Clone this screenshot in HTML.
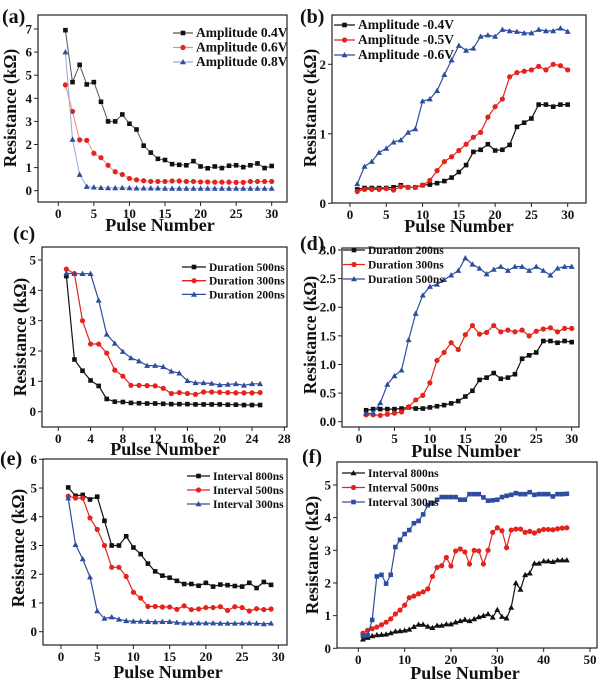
<!DOCTYPE html>
<html><head><meta charset="utf-8">
<style>
html,body{margin:0;padding:0;background:#fff;}
svg{display:block;}
svg text{font-family:"Liberation Serif",serif;font-weight:bold;}
</style></head>
<body>
<svg id="fig" width="600" height="681" viewBox="0 0 600 681" xmlns="http://www.w3.org/2000/svg"></svg>
<script>
// ---- Data arrays ----
const aX = [1,2,3,4,5,6,7,8,9,10,11,12,13,14,15,16,17,18,19,20,21,22,23,24,25,26,27,28,29,30];
const aBlack = [6.95,4.7,5.45,4.6,4.7,3.85,3.0,3.0,3.3,2.9,2.65,1.95,1.65,1.38,1.33,1.15,1.12,1.1,1.28,1.05,0.97,1.05,0.98,1.08,1.1,1.02,1.1,1.18,0.98,1.07];
const aRed = [4.58,3.43,2.2,2.18,1.62,1.43,1.1,0.82,0.7,0.53,0.47,0.43,0.4,0.4,0.4,0.42,0.42,0.4,0.4,0.38,0.38,0.37,0.37,0.37,0.36,0.36,0.4,0.4,0.4,0.4];
const aBlue = [6.0,2.22,0.7,0.18,0.15,0.13,0.12,0.12,0.13,0.12,0.11,0.11,0.11,0.11,0.1,0.1,0.1,0.1,0.1,0.1,0.1,0.1,0.1,0.1,0.1,0.1,0.1,0.1,0.1,0.1];
const aXTicks = [0,5,10,15,20,25,30];
const aYTicks = [0,1,2,3,4,5,6,7];
const aLegend = ["Amplitude 0.4V","Amplitude 0.6V","Amplitude 0.8V"];

const bX = aX;
const bBlack = [0.2,0.22,0.22,0.22,0.22,0.23,0.26,0.23,0.23,0.26,0.27,0.29,0.32,0.37,0.45,0.55,0.74,0.77,0.85,0.76,0.77,0.84,1.1,1.16,1.22,1.42,1.42,1.39,1.42,1.42];
const bRed = [0.17,0.2,0.2,0.2,0.21,0.19,0.24,0.23,0.23,0.26,0.33,0.47,0.6,0.67,0.76,0.85,0.95,1.02,1.24,1.39,1.5,1.82,1.88,1.9,1.92,1.97,1.92,2.0,1.98,1.92];
const bBlue = [0.28,0.53,0.6,0.73,0.79,0.88,0.91,1.02,1.07,1.47,1.5,1.62,1.85,2.06,2.27,2.2,2.23,2.4,2.42,2.4,2.5,2.48,2.47,2.45,2.45,2.5,2.48,2.48,2.52,2.47];
const bXTicks = [0,5,10,15,20,25,30];
const bYTicks = [0,1,2];
const bLegend = ["Amplitude -0.4V","Amplitude -0.5V","Amplitude -0.6V"];

const cX = [1,2,3,4,5,6,7,8,9,10,11,12,13,14,15,16,17,18,19,20,21,22,23,24,25];
const cBlack = [4.47,1.72,1.35,1.03,0.85,0.42,0.33,0.32,0.29,0.28,0.27,0.27,0.26,0.25,0.25,0.25,0.24,0.24,0.24,0.24,0.23,0.23,0.22,0.22,0.22];
const cRed = [4.7,4.55,3.0,2.23,2.23,1.93,1.37,1.17,0.87,0.87,0.86,0.85,0.77,0.6,0.63,0.6,0.57,0.65,0.65,0.64,0.63,0.62,0.62,0.62,0.63];
const cBlue = [4.56,4.55,4.55,4.55,3.67,2.55,2.25,1.98,1.77,1.67,1.52,1.52,1.48,1.33,1.27,1.02,0.95,0.95,0.93,0.88,0.9,0.92,0.87,0.92,0.92];
const cXTicks = [0,4,8,12,16,20,24,28];
const cYTicks = [0,1,2,3,4,5];
const cLegend = ["Duration 500ns","Duration 300ns","Duration 200ns"];

const dX = aX;
const dBlack = [0.2,0.22,0.22,0.22,0.22,0.23,0.25,0.23,0.23,0.25,0.27,0.29,0.32,0.36,0.44,0.54,0.73,0.77,0.85,0.75,0.77,0.83,1.1,1.16,1.21,1.41,1.41,1.38,1.41,1.39];
const dRed = [0.12,0.12,0.11,0.13,0.15,0.17,0.26,0.38,0.46,0.68,1.07,1.21,1.38,1.26,1.52,1.68,1.53,1.56,1.68,1.57,1.6,1.57,1.6,1.5,1.58,1.62,1.64,1.57,1.63,1.63];
const dBlue = [0.14,0.15,0.33,0.65,0.8,0.9,1.43,1.89,2.21,2.36,2.4,2.48,2.56,2.64,2.86,2.75,2.68,2.58,2.66,2.71,2.64,2.71,2.71,2.64,2.71,2.64,2.56,2.68,2.71,2.71];
const dXTicks = [0,5,10,15,20,25,30];
const dYTicks = [0,0.5,1,1.5,2,2.5,3];
const dYLabels = ["0.0","0.5","1.0","1.5","2.0","2.5","3.0"];
const dLegend = ["Duration 200ns","Duration 300ns","Duration 500ns"];

const eX = [1,2,3,4,5,6,7,8,9,10,11,12,13,14,15,16,17,18,19,20,21,22,23,24,25,26,27,28,29];
const eBlack = [5.02,4.73,4.76,4.6,4.7,3.86,3.0,3.0,3.32,2.93,2.7,2.37,2.1,1.95,1.88,1.77,1.66,1.66,1.6,1.7,1.57,1.64,1.62,1.59,1.57,1.7,1.52,1.73,1.63];
const eRed = [4.72,4.65,4.65,3.96,3.56,3.0,2.24,2.24,1.92,1.37,1.17,0.88,0.88,0.86,0.86,0.78,0.9,0.77,0.79,0.84,0.84,0.87,0.74,0.87,0.84,0.72,0.8,0.77,0.79];
const eBlue = [4.65,3.03,2.53,1.9,0.72,0.46,0.51,0.43,0.38,0.36,0.36,0.35,0.34,0.35,0.35,0.32,0.3,0.3,0.3,0.3,0.3,0.29,0.29,0.29,0.3,0.3,0.29,0.27,0.29];
const eXTicks = [0,5,10,15,20,25,30];
const eYTicks = [0,1,2,3,4,5,6];
const eLegend = ["Interval 800ns","Interval 500ns","Interval 300ns"];

const fX = [1,2,3,4,5,6,7,8,9,10,11,12,13,14,15,16,17,18,19,20,21,22,23,24,25,26,27,28,29,30,31,32,33,34,35,36,37,38,39,40,41,42,43,44,45];
const fBlack = [0.28,0.33,0.38,0.41,0.42,0.43,0.47,0.52,0.53,0.55,0.58,0.66,0.73,0.73,0.67,0.63,0.7,0.7,0.74,0.74,0.8,0.84,0.88,0.84,0.9,0.96,1.0,1.05,0.95,1.18,0.97,0.92,1.25,2.0,1.8,2.25,2.3,2.6,2.6,2.67,2.67,2.65,2.7,2.7,2.7];
const fRed = [0.46,0.55,0.6,0.65,0.72,0.8,0.9,1.05,1.17,1.32,1.55,1.6,1.67,1.73,1.82,2.2,2.48,2.53,2.78,2.52,2.98,3.04,2.95,2.58,3.0,2.98,2.58,3.0,3.55,3.69,3.6,3.08,3.62,3.65,3.65,3.55,3.58,3.53,3.6,3.64,3.64,3.63,3.66,3.68,3.69];
const fBlue = [0.38,0.4,0.87,2.2,2.25,1.98,2.25,3.1,3.32,3.5,3.62,3.83,3.9,4.1,4.38,4.45,4.55,4.63,4.63,4.63,4.63,4.55,4.55,4.72,4.72,4.72,4.62,4.52,4.53,4.55,4.63,4.67,4.7,4.75,4.72,4.72,4.78,4.7,4.72,4.72,4.72,4.65,4.72,4.72,4.73];
const fXTicks = [0,10,20,30,40,50];
const fYTicks = [0,1,2,3,4,5];
const fLegend = ["Interval  800ns","Interval  500ns","Interval  300ns"];

const BLACK="#111", RED="#e3231c", BLUE="#2d4d9e";
const NS="http://www.w3.org/2000/svg";
const FONT='"Liberation Serif", serif';
const svg=document.getElementById('fig');
function mk(tag,attrs,parent){const e=document.createElementNS(NS,tag);for(const k in attrs)e.setAttribute(k,attrs[k]);(parent||svg).appendChild(e);return e;}
function txt(attrs,parent){attrs['font-family']=FONT;attrs['font-weight']='bold';return mk('text',attrs,parent);}

function marker(g,shape,cx,cy,color){
  let m;
  if(shape==='sq') m=mk('rect',{x:cx-2.3,y:cy-2.3,width:4.6,height:4.6,fill:color},g);
  else if(shape==='ci') m=mk('circle',{cx:cx,cy:cy,r:2.6,fill:color},g);
  else m=mk('polygon',{points:`${cx},${cy-3} ${cx-3},${cy+2.3} ${cx+3},${cy+2.3}`,fill:color},g);
  return m;
}

function panel(p){
  const g=mk('g',{});
  
  
  const xs=v=>p.x0px+(v-p.xmin)*(p.x1px-p.x0px)/(p.xmax-p.xmin);
  const ys=v=>p.y0px-(v-p.ymin)*(p.y0px-p.y1px)/(p.ymax-p.ymin);
  const box=mk('rect',{x:p.L,y:p.T,width:p.R-p.L,height:p.B-p.T,fill:'none',stroke:'#222','stroke-width':1.2},g);
  
  
  p.xticks.forEach(t=>{
    const x=xs(t);
    mk('line',{x1:x,x2:x,y1:p.B,y2:p.B+4,stroke:'#222','stroke-width':1},g);
    const tx=txt({x:x,y:p.B+16,'text-anchor':'middle','font-size':13,fill:'#111'},g);
    tx.textContent=t;
    
    
  });
  p.yticks.forEach((t,i)=>{
    const y=ys(t);
    mk('line',{x1:p.L-4,x2:p.L,y1:y,y2:y,stroke:'#222','stroke-width':1},g);
    const tx=txt({x:p.L-6,y:y+4.5,'text-anchor':'end','font-size':13,fill:'#111'},g);
    tx.textContent=p.ylabels?p.ylabels[i]:t;
    
    
  });
  const shapes=p.shapes, colors=[BLACK,RED,BLUE];
  p.series.forEach((s,si)=>{
    const sg=mk('g',{},g);
    
    
    const pts=s.map((v,i)=>xs(p.xv[i]).toFixed(1)+','+ys(v).toFixed(1)).join(' ');
    mk('polyline',{points:pts,fill:'none',stroke:p.lineColors?p.lineColors[si]:colors[si],'stroke-width':p.lw||1.2},sg);
    s.forEach((v,i)=>{
      const m=marker(sg,shapes[si],xs(p.xv[i]),ys(v),colors[si]);
      
      
    });
  });
  p.legend.forEach((t,i)=>{
    const y=p.legY+i*p.legDy;
    const lg=mk('g',{},g);
    
    
    mk('line',{x1:p.legX1,x2:p.legX2,y1:y,y2:y,stroke:p.lineColors?p.lineColors[i]:colors[i],'stroke-width':1.3},lg);
    marker(lg,shapes[i],(p.legX1+p.legX2)/2,y,colors[i]);
    const tx=txt({x:p.legX2+3,y:y+4,'font-size':p.legFs,fill:'#111'},lg);
    tx.textContent=t;
  });
  const xt=txt({x:p.xtX,y:p.xtY,'text-anchor':'middle','font-size':18,fill:'#111'},g);
  xt.textContent='Pulse Number';
  
  
  const yt=txt({x:0,y:0,'text-anchor':'middle','font-size':17.5,fill:'#111',transform:`translate(${p.ytX},${p.ytY}) rotate(-90)`},g);
  yt.textContent='Resistance (kΩ)';
  
  
  const lb=txt({x:p.lbX,y:p.lbY,'font-size':20,fill:'#111'},g);
  lb.textContent='('+p.id+')';
  
  
}

panel({id:'a',L:38,T:15,R:287,B:202,x0px:58.3,x1px:271.7,xmin:0,xmax:30,y0px:190.7,y1px:29,ymin:0,ymax:7,
  xticks:aXTicks,yticks:aYTicks,xv:aX,series:[aBlack,aRed,aBlue],shapes:['sq','ci','tr'],
  lineColors:['#555','#e88','#99a8cc'],lw:1,
  legend:aLegend,legY:33,legDy:14.5,legX1:173,legX2:193,legFs:13.5,xtX:160,xtY:231,ytX:16,ytY:108,lbX:2,lbY:23});
panel({id:'b',L:332,T:15,R:586,B:203,x0px:350,x1px:567.7,xmin:0,xmax:30,y0px:203.3,y1px:64.3,ymin:0,ymax:2,
  xticks:bXTicks,yticks:bYTicks,xv:bX,series:[bBlack,bRed,bBlue],shapes:['sq','ci','tr'],
  legend:bLegend,legY:25,legDy:15,legX1:334,legX2:355,legFs:13.5,xtX:459,xtY:232,ytX:316,ytY:108,lbX:300,lbY:23});
panel({id:'c',L:42,T:247,R:287,B:427,x0px:58.3,x1px:284.3,xmin:0,xmax:28,y0px:411.7,y1px:260,ymin:0,ymax:5,
  xticks:cXTicks,yticks:cYTicks,xv:cX,series:[cBlack,cRed,cBlue],shapes:['sq','ci','tr'],
  legend:cLegend,legY:267,legDy:13.7,legX1:182,legX2:206,legFs:11.5,xtX:165,xtY:455,ytX:26,ytY:337,lbX:13,lbY:240});
panel({id:'d',L:342,T:248,R:579,B:427,x0px:359,x1px:571.7,xmin:0,xmax:30,y0px:421.7,y1px:250,ymin:0,ymax:3,
  xticks:dXTicks,yticks:dYTicks,ylabels:dYLabels,xv:dX,series:[dBlack,dRed,dBlue],shapes:['sq','ci','tr'],
  legend:dLegend,legY:250,legDy:14.5,legX1:343,legX2:365,legFs:11.5,xtX:466,xtY:457,ytX:316,ytY:335,lbX:300,lbY:250});
panel({id:'e',L:43,T:459,R:287,B:645,x0px:61,x1px:278.3,xmin:0,xmax:30,y0px:631.7,y1px:459.3,ymin:0,ymax:6,
  xticks:eXTicks,yticks:eYTicks,xv:eX,series:[eBlack,eRed,eBlue],shapes:['sq','ci','tr'],
  legend:eLegend,legY:476,legDy:14,legX1:187,legX2:210,legFs:11.5,xtX:168,xtY:678,ytX:24,ytY:548,lbX:0,lbY:465});
panel({id:'f',L:337,T:462,R:597,B:648,x0px:358.3,x1px:590,xmin:0,xmax:50,y0px:648.3,y1px:485,ymin:0,ymax:5,
  xticks:fXTicks,yticks:fYTicks,xv:fX,series:[fBlack,fRed,fBlue],shapes:['tr','ci','sq'],
  legend:fLegend,legY:473,legDy:14.5,legX1:342,legX2:365,legFs:11.5,xtX:465,xtY:679,ytX:318,ytY:555,lbX:302,lbY:463});
</script>
</body></html>
